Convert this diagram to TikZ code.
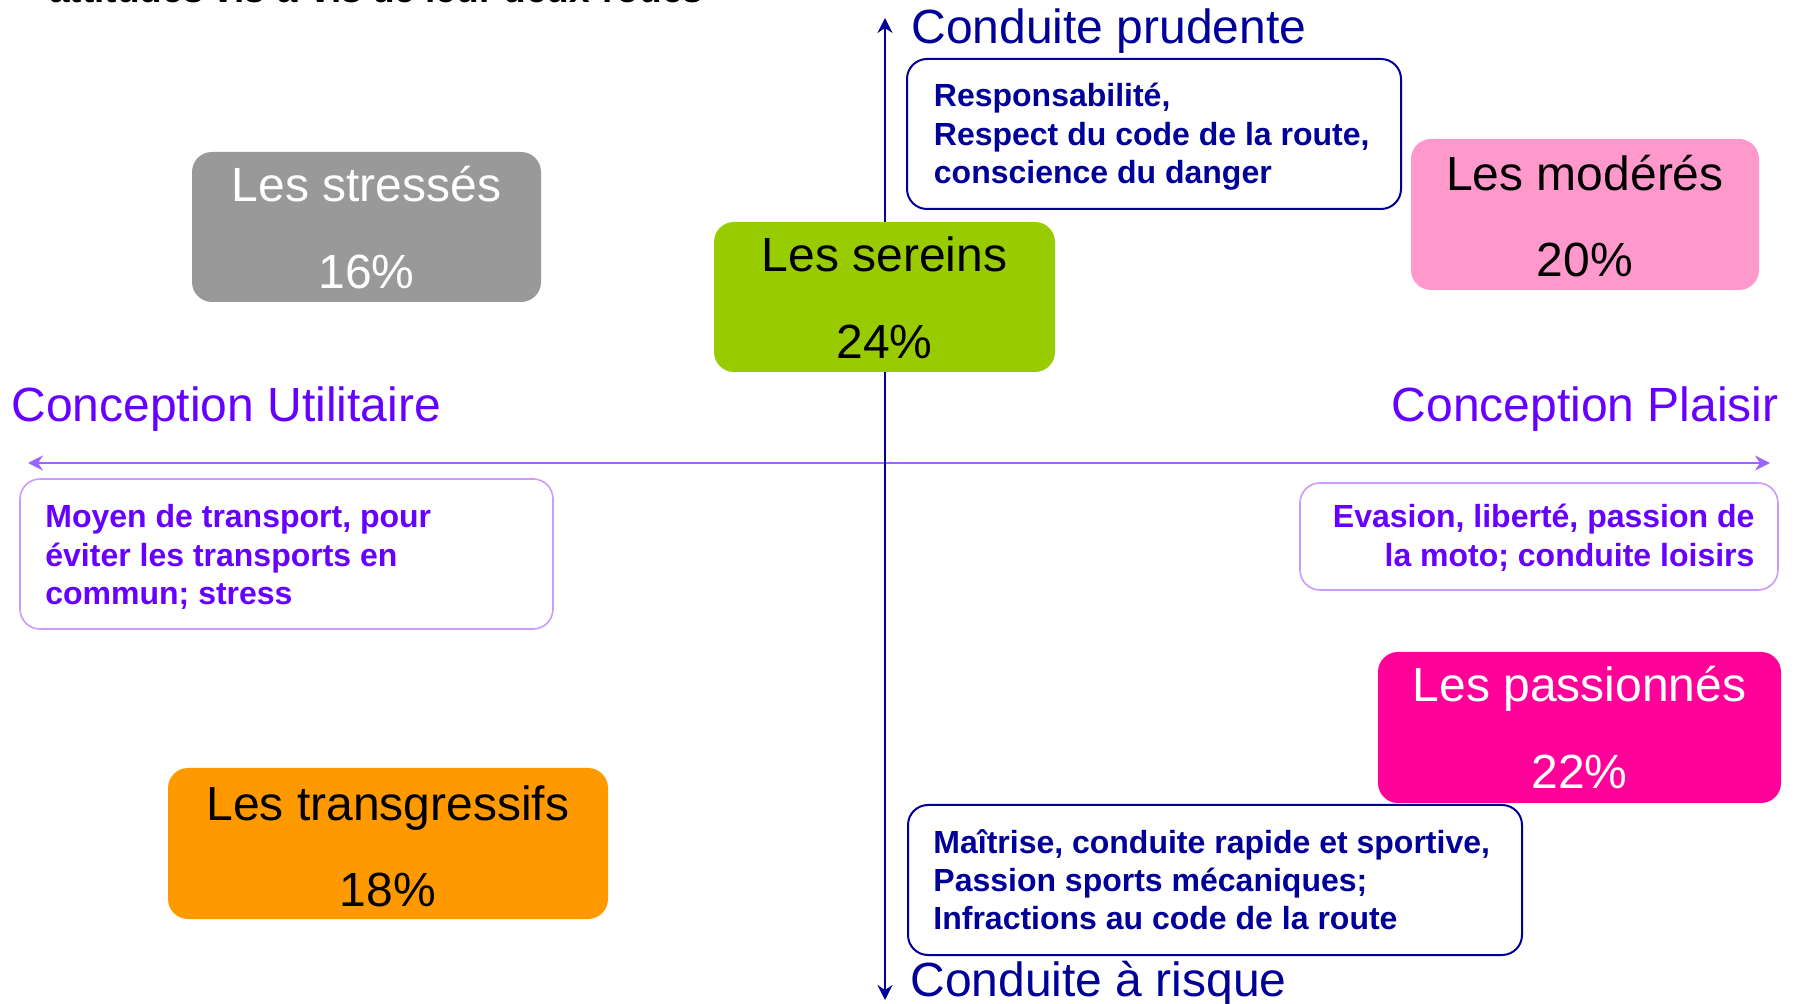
\documentclass[tikz,border=0pt]{standalone}
\usepackage{fontspec}
\setmainfont{Liberation Sans}
\usetikzlibrary{arrows.meta}
\definecolor{cNavy}{HTML}{000099}
\definecolor{cViolet}{HTML}{6600FF}
\definecolor{cAxis}{HTML}{9966FF}
\definecolor{cFrame}{HTML}{CC99FF}
\definecolor{cGray}{HTML}{999999}
\definecolor{cGreen}{HTML}{99CC00}
\definecolor{cPink}{HTML}{FF99CC}
\definecolor{cMagenta}{HTML}{FF0099}
\definecolor{cOrange}{HTML}{FF9900}
\newcommand{\lines}[1]{\vtop{\baselineskip=19.1pt\lineskiplimit=-10pt #1}}
\newcommand{\rl}[1]{\hbox to 0pt{\hss #1}}
\tikzset{
  bigtxt/.style={font=\fontsize{24}{28.8}\selectfont, inner sep=0pt},
  smalltxt/.style={font=\bfseries\fontsize{16}{19.2}\selectfont, inner sep=0pt},
  groupbox/.style={rounded corners=10pt, inner sep=0pt, draw=none},
  navybox/.style={rounded corners=10pt, inner sep=0pt, draw=cNavy, line width=1pt, fill=white},
  violetbox/.style={rounded corners=10pt, inner sep=0pt, draw=cFrame, line width=0.8pt, fill=white},
  vaxis/.style={draw=cNavy, line width=1.4pt, {Stealth[length=7.5pt,width=7.5pt,inset=2.5pt]}-{Stealth[length=7.5pt,width=7.5pt,inset=2.5pt]}},
  haxis/.style={draw=cAxis, line width=1.4pt, {Stealth[length=7.5pt,width=7.5pt,inset=2.5pt]}-{Stealth[length=7.5pt,width=7.5pt,inset=2.5pt]}},
}
\begin{document}
\begin{tikzpicture}[x=0.5pt,y=-0.5pt]
\useasboundingbox (0,0) rectangle (1799,1004);
\clip (0,0) rectangle (1799,1004);

% clipped title fragment at the top
\node[font=\bfseries\fontsize{18.5}{22}\selectfont, inner sep=0pt, anchor=base west] (title) at (49,3) {attitudes vis-à-vis de leur deux-roues};

% axes
\coordinate (hl) at (28,463);
\coordinate (hr) at (1770,463);
\coordinate (vt) at (885,18);
\coordinate (vb) at (885,1000);
\draw[haxis] (hl) -- (hr);
\draw[vaxis] (vb) -- (vt);

% axis labels
\node[bigtxt, text=cNavy, anchor=base west] (prudent) at (911,44) {Conduite prudente};
\node[bigtxt, text=cNavy, anchor=base west] (risque) at (910,996) {Conduite à risque};
\node[bigtxt, text=cViolet, anchor=base west] (utilitaire) at (11,422) {Conception Utilitaire};
\node[bigtxt, text=cViolet, anchor=base east] (plaisir) at (1779,422) {Conception Plaisir};

% description boxes
\node[navybox, minimum width=247pt, minimum height=75pt] (boxA) at (1154,134) {};
\node[smalltxt, text=cNavy, anchor=base west] (txtA) at (933.5,107)
  {\lines{\hbox{Responsabilité,}\hbox{Respect du code de la route,}\hbox{conscience du danger}}};

\node[violetbox, minimum width=266.5pt, minimum height=75pt] (boxB) at (286.5,554) {};
\node[smalltxt, text=cViolet, anchor=base west] (txtB) at (45,528)
  {\lines{\hbox{Moyen de transport, pour}\hbox{éviter les transports en}\hbox{commun; stress}}};

\node[violetbox, minimum width=239pt, minimum height=53.5pt] (boxC) at (1539,536.5) {};
\node[smalltxt, text=cViolet, anchor=base west] (txtC) at (1753,528)
  {\lines{\rl{Evasion, liberté, passion de}\rl{la moto; conduite loisirs}}};

\node[navybox, minimum width=307pt, minimum height=75pt] (boxD) at (1215,880) {};
\node[smalltxt, text=cNavy, anchor=base west] (txtD) at (933,853)
  {\lines{\hbox{Maîtrise, conduite rapide et sportive,}\hbox{Passion sports mécaniques;}\hbox{Infractions au code de la route}}};

% groups
\node[groupbox, fill=cGray, minimum width=174.5pt, minimum height=75pt] (stress) at (366.5,227) {};
\node[bigtxt, text=white, anchor=base] (stressA) at (366.5,202) {Les stressés};
\node[bigtxt, text=white, anchor=base] (stressB) at (366.5,289) {16\%};

\node[groupbox, fill=cGreen, minimum width=170.5pt, minimum height=75pt] (serein) at (884.5,297) {};
\node[bigtxt, text=black, anchor=base] (sereinA) at (884.5,272) {Les sereins};
\node[bigtxt, text=black, anchor=base] (sereinB) at (884.5,359) {24\%};

\node[groupbox, fill=cPink, minimum width=174pt, minimum height=75.5pt] (modere) at (1585,214.5) {};
\node[bigtxt, text=black, anchor=base] (modereA) at (1585,191) {Les modérés};
\node[bigtxt, text=black, anchor=base] (modereB) at (1585,277) {20\%};

\node[groupbox, fill=cOrange, minimum width=220pt, minimum height=75.5pt] (transg) at (388,843.5) {};
\node[bigtxt, text=black, anchor=base] (transgA) at (388,820) {Les transgressifs};
\node[bigtxt, text=black, anchor=base] (transgB) at (388,906) {18\%};

\node[groupbox, fill=cMagenta, minimum width=201.5pt, minimum height=75.5pt] (passio) at (1579.5,727.5) {};
\node[bigtxt, text=white, anchor=base] (passioA) at (1579.5,702) {Les passionnés};
\node[bigtxt, text=white, anchor=base] (passioB) at (1579.5,789) {22\%};
\end{tikzpicture}
\end{document}
